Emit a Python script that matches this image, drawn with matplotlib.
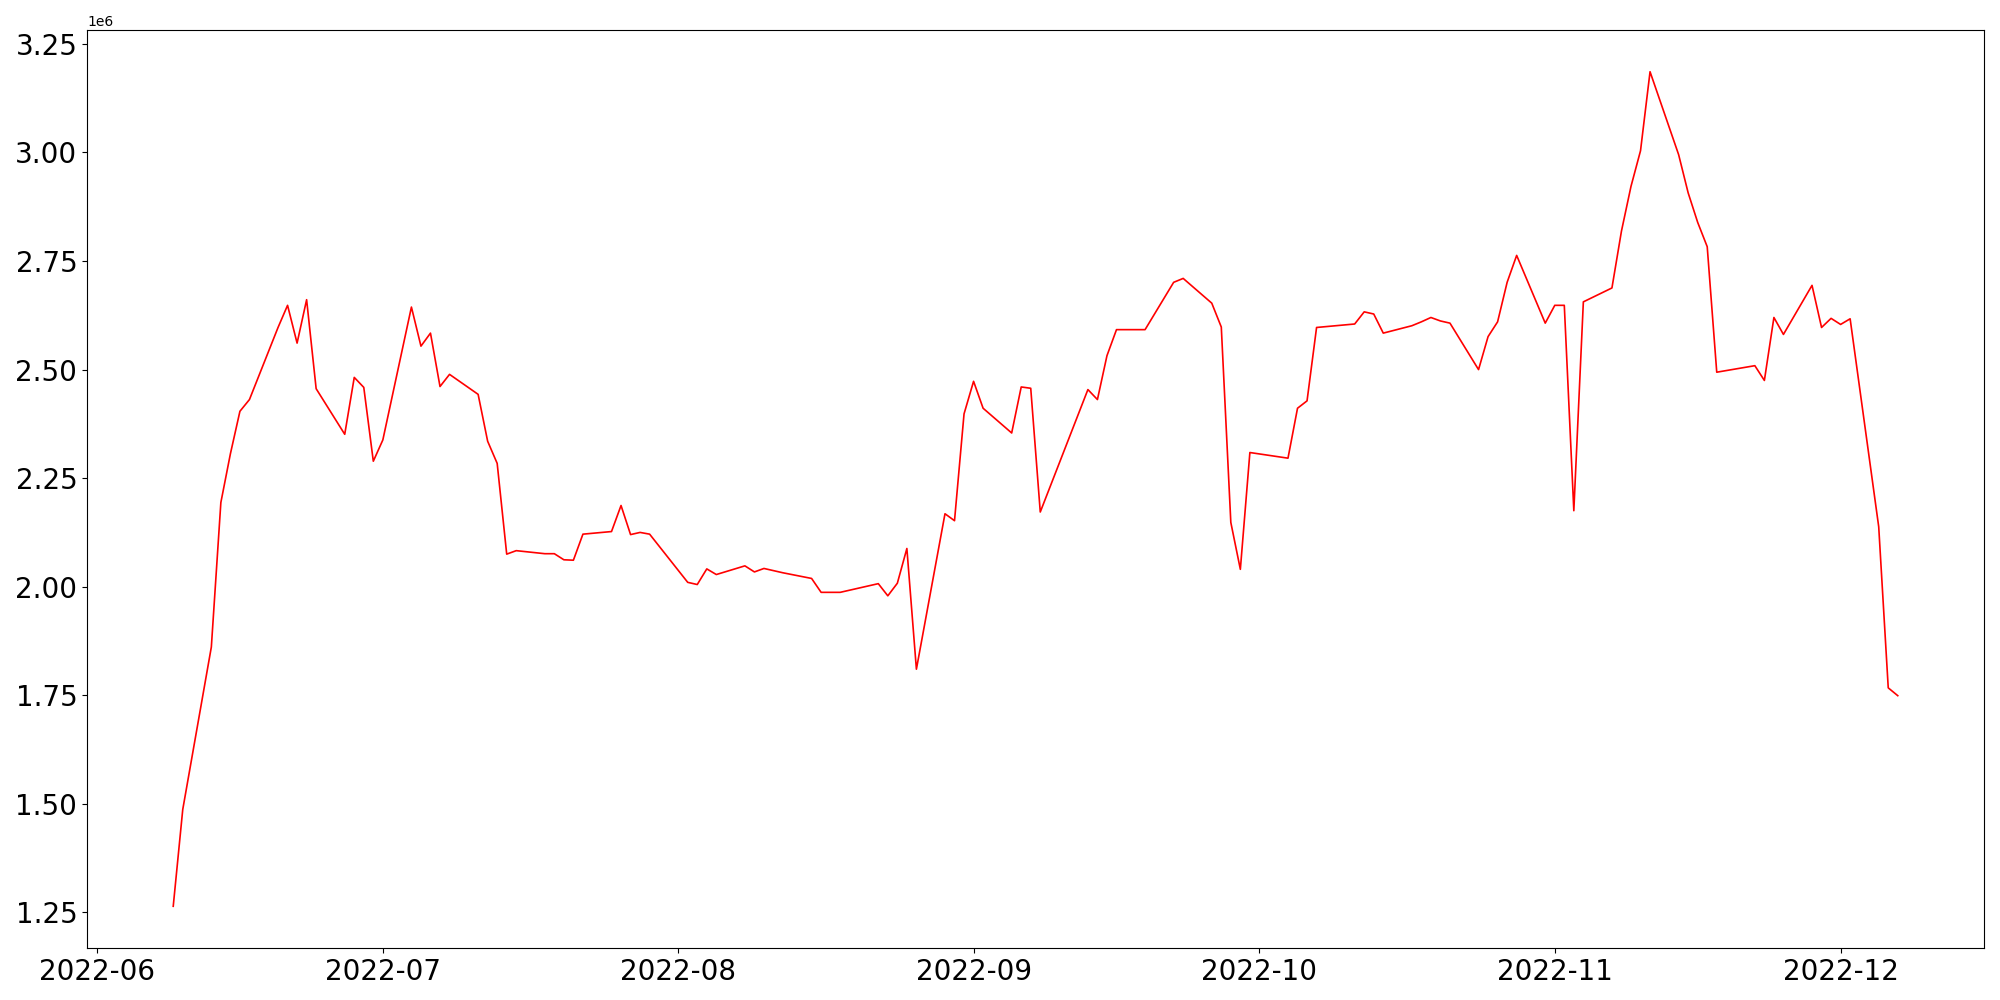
import matplotlib
matplotlib.use("Agg")
import matplotlib.pyplot as plt
import matplotlib.dates as mdates
import pandas as pd

dates = [
    "2022-06-09", "2022-06-10", "2022-06-13", "2022-06-14", "2022-06-15", "2022-06-16", "2022-06-17",
    "2022-06-20", "2022-06-21", "2022-06-22", "2022-06-23", "2022-06-24",
    "2022-06-27", "2022-06-28", "2022-06-29", "2022-06-30", "2022-07-01",
    "2022-07-04", "2022-07-05", "2022-07-06", "2022-07-07", "2022-07-08",
    "2022-07-11", "2022-07-12", "2022-07-13", "2022-07-14", "2022-07-15",
    "2022-07-18", "2022-07-19", "2022-07-20", "2022-07-21", "2022-07-22",
    "2022-07-25", "2022-07-26", "2022-07-27", "2022-07-28", "2022-07-29",
    "2022-08-02", "2022-08-03", "2022-08-04", "2022-08-05",
    "2022-08-08", "2022-08-09", "2022-08-10", "2022-08-12",
    "2022-08-15", "2022-08-16", "2022-08-17", "2022-08-18",
    "2022-08-22", "2022-08-23", "2022-08-24", "2022-08-25", "2022-08-26",
    "2022-08-29", "2022-08-30", "2022-08-31", "2022-09-01", "2022-09-02",
    "2022-09-05", "2022-09-06", "2022-09-07", "2022-09-08",
    "2022-09-13", "2022-09-14", "2022-09-15", "2022-09-16",
    "2022-09-19", "2022-09-22", "2022-09-23",
    "2022-09-26", "2022-09-27", "2022-09-28", "2022-09-29", "2022-09-30",
    "2022-10-04", "2022-10-05", "2022-10-06", "2022-10-07",
    "2022-10-11", "2022-10-12", "2022-10-13", "2022-10-14",
    "2022-10-17", "2022-10-18", "2022-10-19", "2022-10-20", "2022-10-21",
    "2022-10-24", "2022-10-25", "2022-10-26", "2022-10-27", "2022-10-28",
    "2022-10-31", "2022-11-01", "2022-11-02", "2022-11-03", "2022-11-04",
    "2022-11-07", "2022-11-08", "2022-11-09", "2022-11-10", "2022-11-11",
    "2022-11-14", "2022-11-15", "2022-11-16", "2022-11-17", "2022-11-18",
    "2022-11-22", "2022-11-23", "2022-11-24", "2022-11-25",
    "2022-11-28", "2022-11-29", "2022-11-30", "2022-12-01", "2022-12-02",
    "2022-12-05", "2022-12-06", "2022-12-07",
]

values = [
    1264000, 1487000, 1861000, 2194000, 2306000, 2404000, 2431000,
    2597000, 2648000, 2561000, 2661000, 2456000,
    2351000, 2482000, 2459000, 2289000, 2338000,
    2644000, 2554000, 2584000, 2461000, 2489000,
    2443000, 2335000, 2284000, 2075000, 2083000,
    2076000, 2076000, 2062000, 2061000, 2121000,
    2127000, 2187000, 2120000, 2125000, 2121000,
    2010000, 2005000, 2041000, 2028000,
    2048000, 2034000, 2042000, 2032000,
    2019000, 1987000, 1987000, 1987000,
    2007000, 1979000, 2008000, 2088000, 1810000,
    2168000, 2152000, 2398000, 2473000, 2411000,
    2354000, 2460000, 2457000, 2172000,
    2454000, 2431000, 2532000, 2592000,
    2592000, 2701000, 2710000,
    2653000, 2598000, 2148000, 2040000, 2309000,
    2296000, 2411000, 2428000, 2597000,
    2605000, 2633000, 2628000, 2584000,
    2601000, 2610000, 2620000, 2612000, 2607000,
    2500000, 2576000, 2610000, 2701000, 2763000,
    2607000, 2648000, 2648000, 2175000, 2656000,
    2688000, 2819000, 2922000, 3004000, 3186000,
    2995000, 2907000, 2839000, 2783000, 2494000,
    2509000, 2475000, 2620000, 2581000,
    2694000, 2597000, 2618000, 2604000, 2617000,
    2138000, 1767000, 1749000,
]

x = pd.to_datetime(dates)

fig, ax = plt.subplots(figsize=(20, 10), dpi=100)
fig.subplots_adjust(left=0.0435, right=0.992, top=0.97, bottom=0.052)
ax.plot(x, values, color="red", linewidth=1.2)
ax.xaxis.set_major_locator(mdates.MonthLocator())
ax.xaxis.set_major_formatter(mdates.DateFormatter("%Y-%m"))
ax.tick_params(axis="both", labelsize=20)
fig.savefig("out.png")
